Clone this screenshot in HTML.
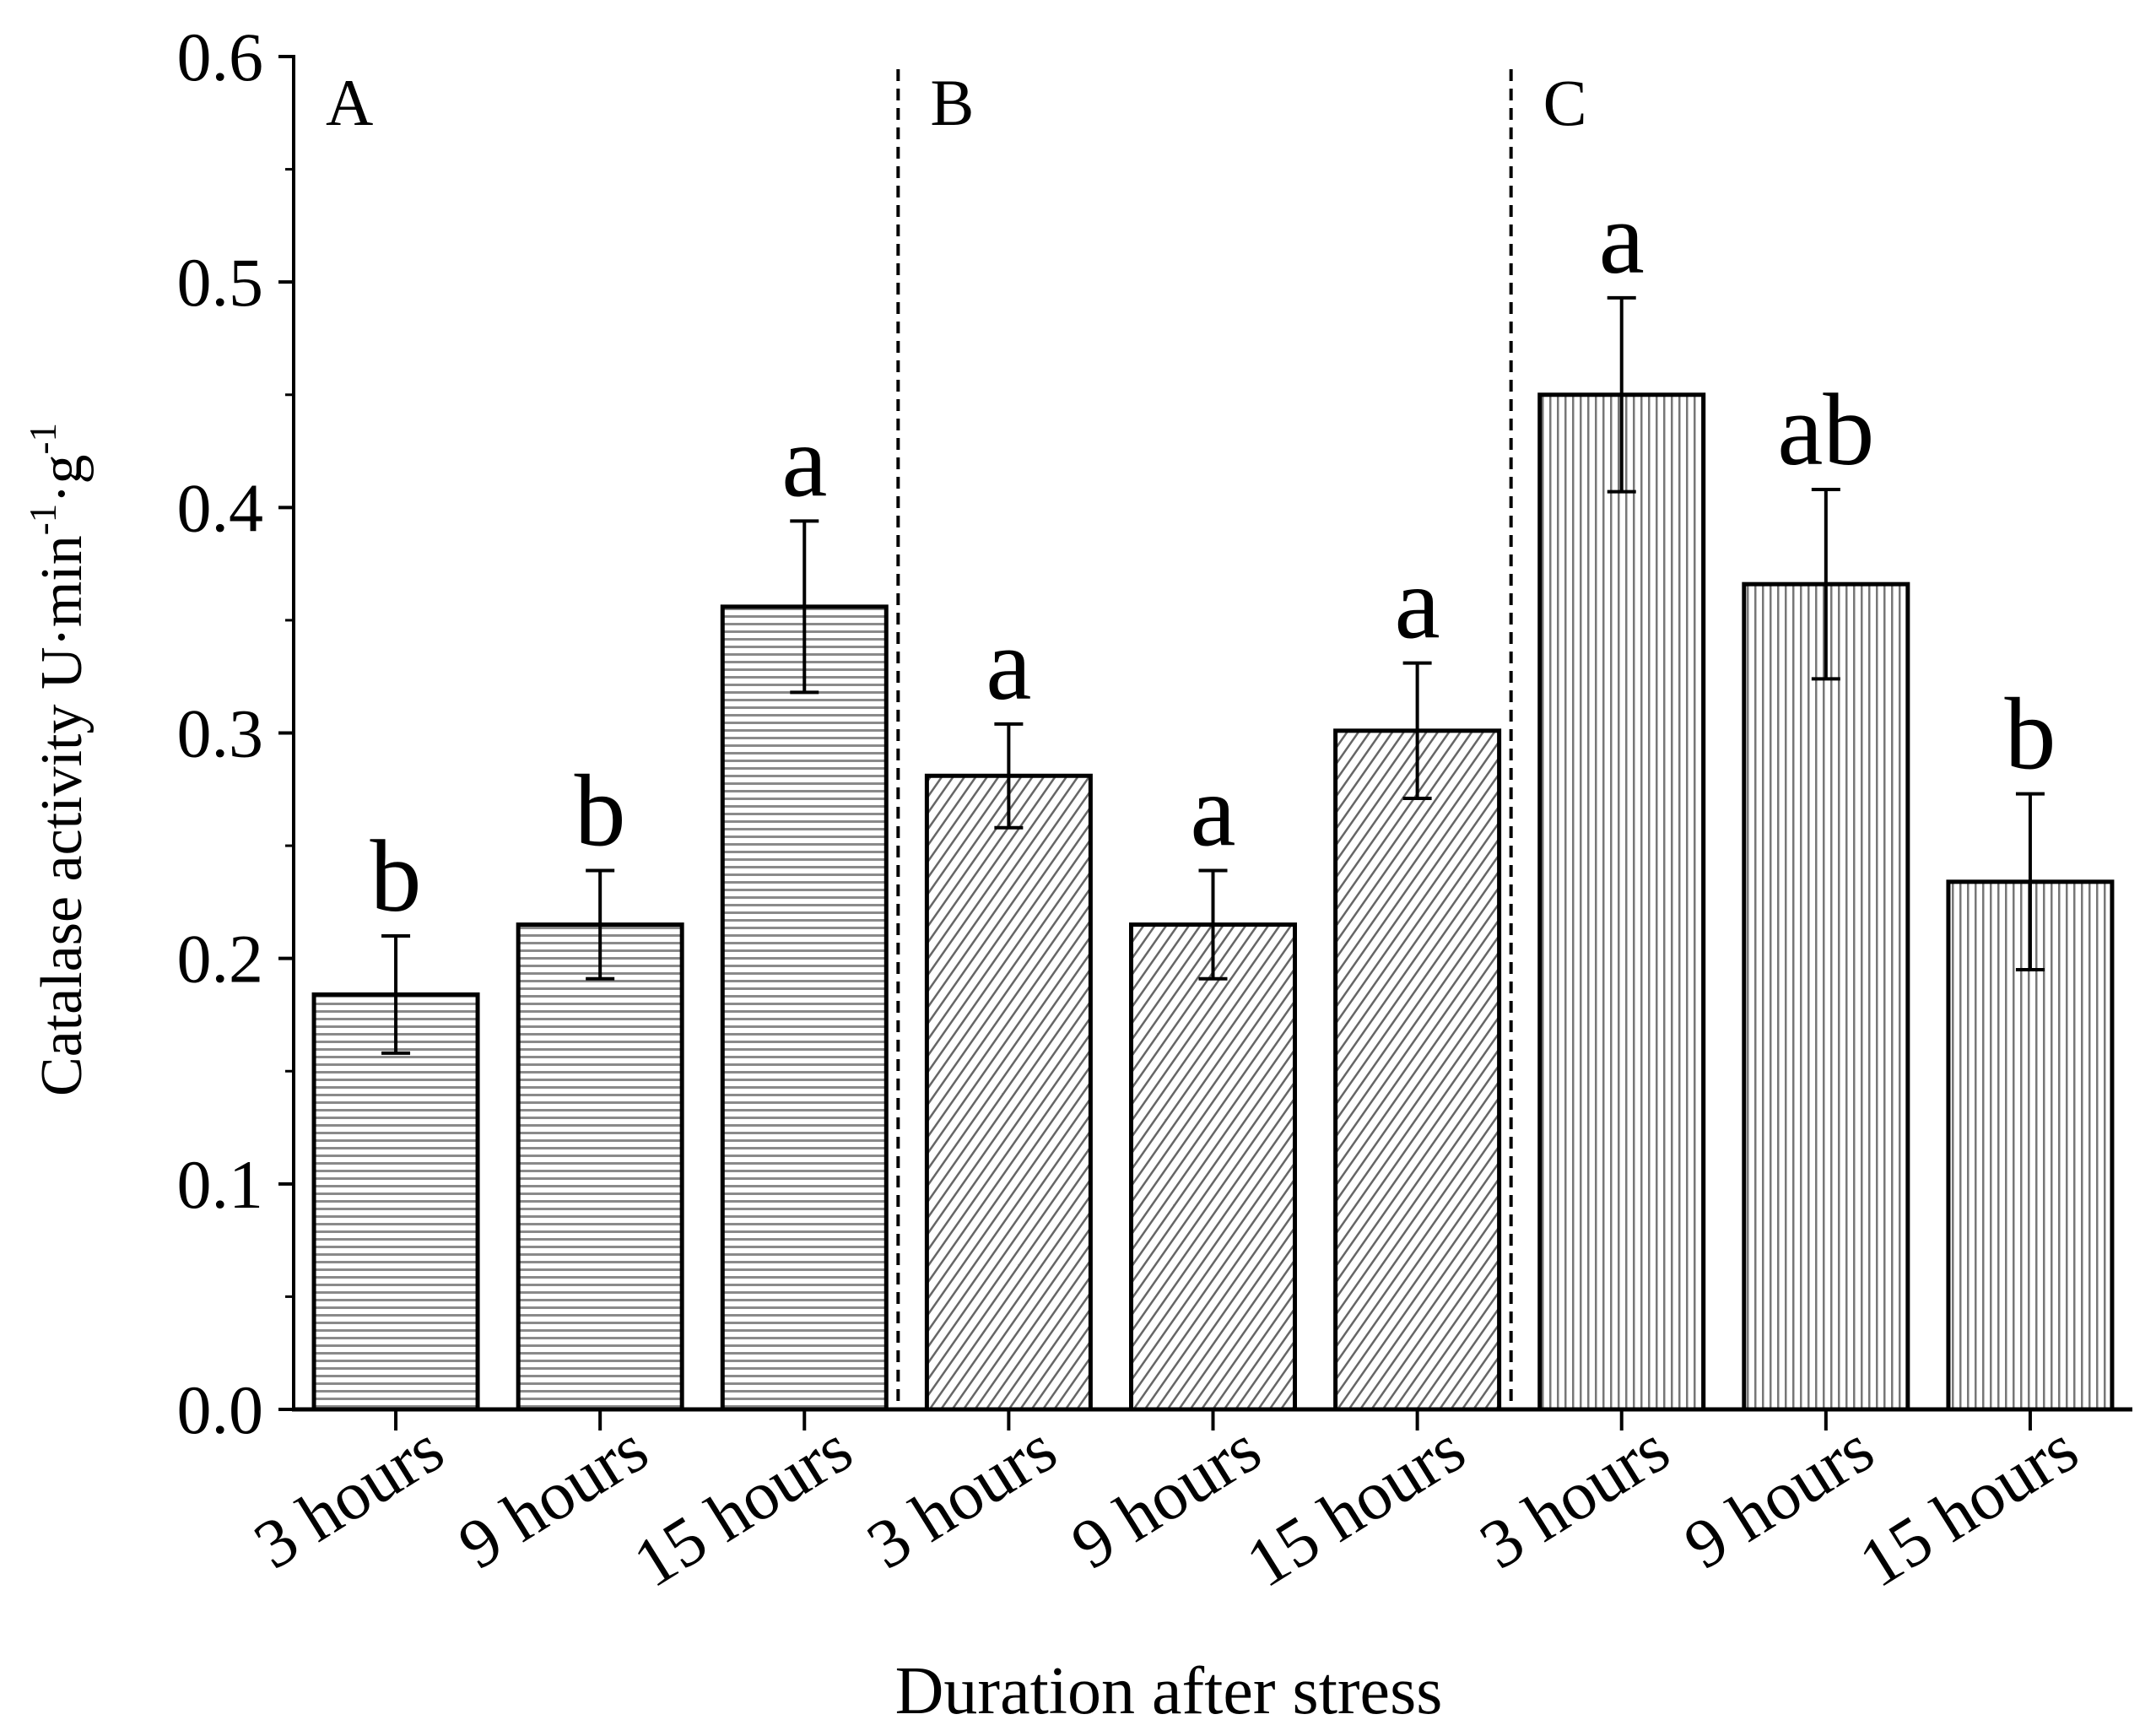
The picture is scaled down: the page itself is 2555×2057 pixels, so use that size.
<!DOCTYPE html>
<html><head><meta charset="utf-8"><style>
html,body{margin:0;padding:0;background:#fff;}
svg{display:block;font-family:"Liberation Serif",serif;}
</style></head><body>
<svg id="chart" width="2555" height="2057" viewBox="0 0 2555 2057" xmlns="http://www.w3.org/2000/svg">
<defs>
<pattern id="pA" patternUnits="userSpaceOnUse" width="10" height="9"><rect width="10" height="9" fill="#fff"/><rect y="0" width="10" height="3" fill="#8a8a8a"/></pattern>
<pattern id="pB" patternUnits="userSpaceOnUse" width="11" height="11" patternTransform="rotate(35)"><rect width="11" height="11" fill="#fff"/><rect x="0" width="2.5" height="11" fill="#666"/></pattern>
<pattern id="pC" patternUnits="userSpaceOnUse" width="9" height="10"><rect width="9" height="10" fill="#fff"/><rect x="0" width="2.5" height="10" fill="#777"/></pattern>
</defs>
<g id="plot"></g>
</svg>
<script>
const categories = ["3 hours","9 hours","15 hours","3 hours","9 hours","15 hours","3 hours","9 hours","15 hours"];
const groups = ["A","A","A","B","B","B","C","C","C"];
const values = [0.184,0.215,0.356,0.281,0.215,0.301,0.450,0.366,0.234];
const errors = [0.026,0.024,0.038,0.023,0.024,0.030,0.043,0.042,0.039];
const letters = ["b","b","a","a","a","a","a","ab","b"];
const yTicks = [0.0,0.1,0.2,0.3,0.4,0.5,0.6];
const panelLabels = ["A","B","C"];

const NS="http://www.w3.org/2000/svg";
const g=document.getElementById('plot');
const x0=348,x1=2527,yTop=67,yBot=1670,yMax=0.6;
const band=(x1-x0)/categories.length, bw=194;
const y=v=>yBot-(v/yMax)*(yBot-yTop);
const cx=i=>x0+band*(i+0.5);
function mk(t,a,txt){const e=document.createElementNS(NS,t);for(const k in a)e.setAttribute(k,a[k]);if(txt!==undefined)e.textContent=txt;g.appendChild(e);return e;}
const pat={A:"url(#pA)",B:"url(#pB)",C:"url(#pC)"};

values.forEach((v,i)=>{
  const r=mk('rect',{x:cx(i)-bw/2,y:y(v),width:bw,height:yBot-y(v),fill:pat[groups[i]],stroke:'#000','stroke-width':5});
  
  
  const hi=y(v+errors[i]),lo=y(v-errors[i]);
  const eb=mk('path',{d:`M${cx(i)} ${hi}V${lo}M${cx(i)-17} ${hi}H${cx(i)+17}M${cx(i)-17} ${lo}H${cx(i)+17}`,stroke:'#000','stroke-width':4,fill:'none'});
  
  
  const lt=mk('text',{x:cx(i),y:hi-30,'font-size':122,'text-anchor':'middle'},letters[i]);
  
  
  const tk=mk('line',{x1:cx(i),x2:cx(i),y1:yBot,y2:yBot+25,stroke:'#000','stroke-width':4});
  
  
  const tl=mk('text',{x:0,y:0,'font-size':82,'text-anchor':'end',transform:`translate(${cx(i)+62},${yBot+62}) rotate(-32)`},categories[i]);
  
  
});

yTicks.forEach(t=>{
  const l=mk('line',{x1:x0-18,x2:x0,y1:y(t),y2:y(t),stroke:'#000','stroke-width':4});
  
  
  const tx=mk('text',{x:x0-36,y:y(t)+28,'font-size':82,'text-anchor':'end'},t.toFixed(1));
  
  
});
for(let k=0;k<yTicks.length-1;k++){
  const m=(yTicks[k]+yTicks[k+1])/2;
  const l=mk('line',{x1:x0-10,x2:x0,y1:y(m),y2:y(m),stroke:'#000','stroke-width':3});
  
  
}

const ya=mk('line',{x1:x0,x2:x0,y1:yTop-2,y2:yBot+2,stroke:'#000','stroke-width':4});


const xa=mk('line',{x1:x0-2,x2:x1,y1:yBot,y2:yBot,stroke:'#000','stroke-width':5});



[3,6].forEach(k=>{
  const xx=x0+band*k-10;
  const d=mk('line',{x1:xx,x2:xx,y1:82,y2:yBot,stroke:'#000','stroke-width':4,'stroke-dasharray':'14,9'});
  
  
});
panelLabels.forEach((p,k)=>{
  const t=mk('text',{x:x0+band*3*k+(k?28:38),y:148,'font-size':78},p);
  
  
});

const xt=mk('text',{x:1385,y:2030,'font-size':80,'text-anchor':'middle'},'Duration after stress');


const yt=mk('text',{x:0,y:0,'font-size':70,'text-anchor':'middle',transform:'translate(96,900) rotate(-90)'});


yt.innerHTML='Catalase activity U·min<tspan dy="-30" font-size="45">-1</tspan><tspan dy="30">·g</tspan><tspan dy="-30" font-size="45">-1</tspan>';
</script>
</body></html>
